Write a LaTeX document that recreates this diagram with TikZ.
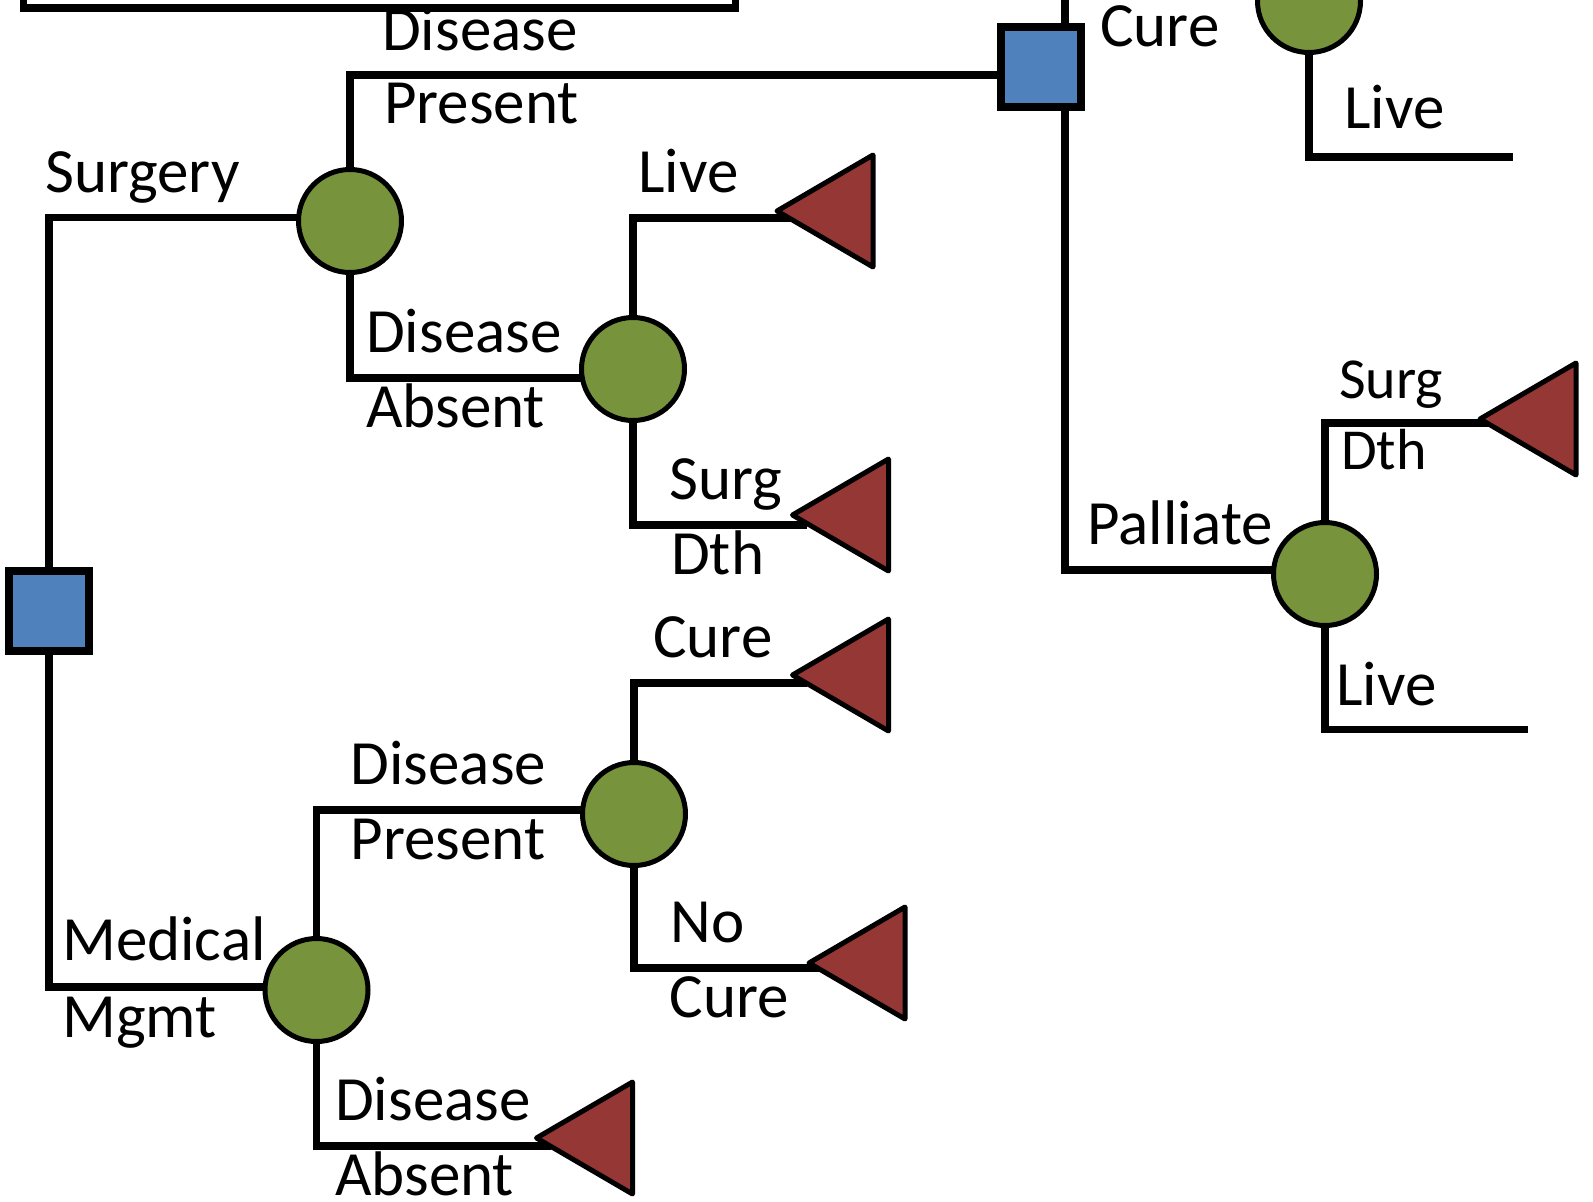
\documentclass[tikz,border=0pt]{standalone}
\usepackage{fontspec}
\setmainfont{Carlito}
\usetikzlibrary{backgrounds,calc}
\definecolor{cgreen}{HTML}{77933C}
\definecolor{dblue}{HTML}{4F81BD}
\definecolor{tred}{HTML}{953735}
\newcommand\labfont{\fontsize{63}{75}\selectfont}
\newcommand\smlabfont{\fontsize{58}{70}\selectfont}
\begin{document}
\begin{tikzpicture}[x=1pt,y=-1pt,
  chance/.style={circle,draw=black,line width=5pt,fill=cgreen,minimum size=103pt,inner sep=0pt},
  decision/.style={rectangle,draw=black,line width=8pt,fill=dblue,minimum size=80pt,inner sep=0pt},
  branch/.style={line width=7.5pt,draw=black},
  terminal/.style={draw=black,line width=5pt,fill=tred,line join=round},
  lab/.style={anchor=base west,inner sep=0pt,font=\labfont},
  smlab/.style={anchor=base west,inner sep=0pt,font=\smlabfont}]
\useasboundingbox (0,0) rectangle (1593,1202);
\clip (0,0) rectangle (1593,1202);

% top box (cut off)
\draw[branch] (23.5,-60) rectangle (735.5,8);

% decision nodes
\node[decision] (root) at (49,611) {};
\node[decision] (d2) at (1041,67) {};

% chance nodes
\node[chance] (c1) at (350,221) {};
\node[chance] (c2) at (633,369) {};
\node[chance] (c3) at (316.5,990) {};
\node[chance] (c4) at (634,814) {};
\node[chance] (c5) at (1325,574) {};
\node[chance] (c6) at (1309,1) {};

% terminal triangles (tips)
\coordinate (t1) at (777,211);
\coordinate (t2) at (792.5,515);
\coordinate (t3) at (792.5,675);
\coordinate (t4) at (809,963);
\coordinate (t5) at (536.5,1138);
\coordinate (t6) at (1480,419);
\foreach \t in {t1,t2,t3,t4,t5,t6}
  \draw[terminal] (\t) -- ++(96,-56) -- ++(0,112) -- cycle;

% free ends
\coordinate (e5) at (1528,729.5);
\coordinate (e6) at (1513,157);

% labels
\node[lab] (l1) at (382,50) {Disease};
\node[lab] (l2) at (384,123) {Present};
\node[lab] (l3) at (45,192) {Surgery};
\node[lab] (l4) at (366,352) {Disease};
\node[lab] (l5) at (366,427) {Absent};
\node[lab] (l6) at (638,192) {Live};
\node[lab] (l7) at (669,499) {Surg};
\node[lab] (l8) at (671,574) {Dth};
\node[lab] (l9) at (62,960) {Medical};
\node[lab] (l10) at (62,1037) {Mgmt};
\node[lab] (l11) at (350.5,784) {Disease};
\node[lab] (l12) at (350.5,859) {Present};
\node[lab] (l13) at (653,657) {Cure};
\node[lab] (l14) at (670.5,942) {No};
\node[lab] (l15) at (669.5,1017) {Cure};
\node[lab] (l16) at (335,1120) {Disease};
\node[lab] (l17) at (335,1195) {Absent};
\node[lab] (l18) at (1100,46) {Cure};
\node[lab] (l19) at (1344,128) {Live};
\node[lab] (l20) at (1087,544) {Palliate};
\node[smlab] (l21) at (1339,398) {Surg};
\node[smlab] (l22) at (1341,469) {Dth};
\node[lab] (l23) at (1336,705) {Live};

% connectors
\begin{pgfonlayer}{background}
\clip (0,0) rectangle (1593,1202);
\draw[branch] (root.center) |- ([yshift=3.5pt]c1.center);
\draw[branch] (root.center) |- ([yshift=3pt]c3.center);
\draw[branch] (c1.center) |- ([yshift=-8pt]d2.center);
\draw[branch] (c1.center) |- ([yshift=-9pt]c2.center);
\draw[branch] (c2.center) |- ($(t1)+(14,7)$);
\draw[branch] (c2.center) |- ($(t2)+(14,10)$);
\draw[branch] (c3.center) |- ([yshift=4pt]c4.center);
\draw[branch] (c3.center) |- ($(t5)+(14,8)$);
\draw[branch] (c4.center) |- ($(t3)+(14,8)$);
\draw[branch] (c4.center) |- ($(t4)+(14,5)$);
\draw[branch] ([xshift=24pt]d2.center) |- ([yshift=10pt]c6.center);
\draw[branch] ([xshift=24pt]d2.center) |- ([yshift=4pt]c5.center);
\draw[branch] (c5.center) |- ($(t6)+(14,4)$);
\draw[branch] (c5.center) |- (e5);
\draw[branch] (c6.center) |- (e6);
\end{pgfonlayer}
\end{tikzpicture}
\end{document}
